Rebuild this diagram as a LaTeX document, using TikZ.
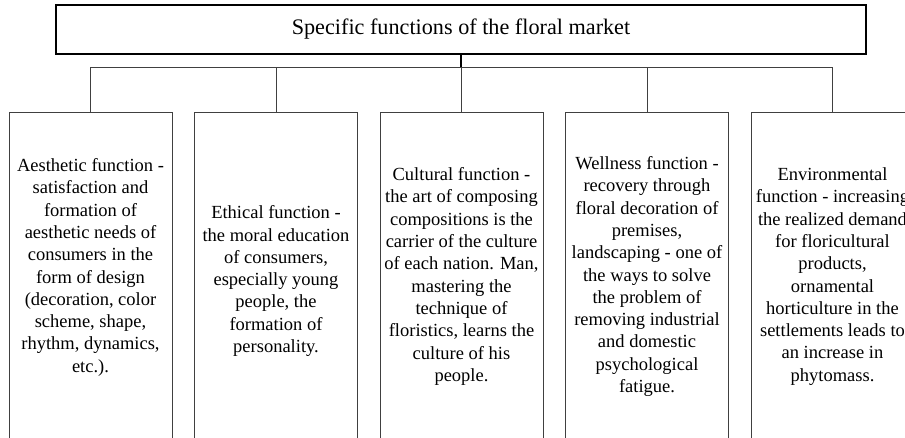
\documentclass[tikz,border=0pt]{standalone}
\usepackage{fontspec}
\setmainfont{Liberation Serif}
\usetikzlibrary{positioning}
\tikzstyle{head}  = [rectangle, draw=black, line width=1.1pt, minimum width=810pt, minimum height=49pt, inner sep=0pt, font=\fontsize{22.2}{26}\selectfont]
\tikzstyle{block} = [rectangle, draw=black!75, line width=0.8pt, minimum width=163pt, minimum height=329pt, inner sep=0pt, align=center, font=\fontsize{18.5}{22.3}\selectfont]
\tikzstyle{line}  = [draw, black!75, line width=0.8pt]

\begin{document}
\begin{tikzpicture}[x=1pt, y=-1pt]
	\useasboundingbox (0,0) rectangle (905,438);
	\clip (0,0) rectangle (905,438);
	\node [head] (top) at (461,29.5) {Specific functions of the floral market};
	\node [block] (aest) at (90.5,276.5) {Aesthetic function -\\ satisfaction and\\ formation of\\ aesthetic needs of\\ consumers in the\\ form of design\\ (decoration, color\\ scheme, shape,\\ rhythm, dynamics,\\ etc.).\\ ~};
	\node [block, right=21.7pt of aest] (eth) {~\\ Ethical function -\\ the moral education\\ of consumers,\\ especially young\\ people, the\\ formation of\\ personality.};
	\node [block, right=21.7pt of eth] (cult) {Cultural function -\\ the art of composing\\ compositions is the\\ carrier of the culture\\ of each nation. Man,\\ mastering the\\ technique of\\ floristics, learns the\\ culture of his\\ people.};
	\node [block, right=21.7pt of cult] (well) {Wellness function -\\ recovery through\\ floral decoration of\\ premises,\\ landscaping - one of\\ the ways to solve\\ the problem of\\ removing industrial\\ and domestic\\ psychological\\ fatigue.};
	\node [block, right=21.7pt of well] (env) {Environmental\\ function - increasing\\ the realized demand\\ for floricultural\\ products,\\ ornamental\\ horticulture in the\\ settlements leads to\\ an increase in\\ phytomass.};
	\draw [line width=1.2pt] (top.south) -- ++(0,13) coordinate (bus);
	\foreach \n in {aest,eth,cult,well,env}
		\path [line] (bus) -| (\n.north);
\end{tikzpicture}
\end{document}
